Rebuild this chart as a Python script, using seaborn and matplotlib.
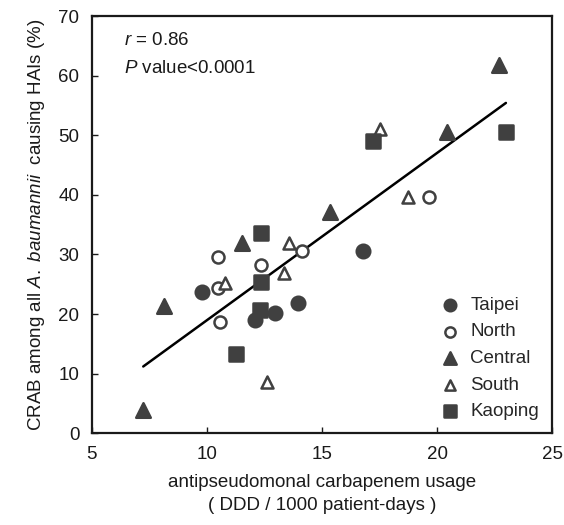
import numpy as np
import pandas as pd
import seaborn as sns
import matplotlib.pyplot as plt

# data
taipei_x = [9.77, 12.1, 12.95, 13.97, 16.77]
taipei_y = [23.7, 19.0, 20.2, 21.9, 30.6]
north_x = [10.46, 10.46, 10.57, 12.33, 14.14, 19.63]
north_y = [29.5, 24.3, 18.7, 28.2, 30.6, 39.6]
central_x = [7.23, 8.14, 11.51, 15.33, 20.42, 22.67]
central_y = [3.9, 21.3, 31.9, 37.2, 50.6, 61.8]
south_x = [10.78, 12.6, 13.36, 13.57, 17.52, 18.73]
south_y = [25.2, 8.6, 26.9, 32.0, 51.0, 39.6]
kaoping_x = [11.25, 12.3, 12.35, 12.35, 17.23, 22.99]
kaoping_y = [13.3, 20.7, 25.3, 33.6, 49.0, 50.6]

regions = ['Taipei', 'North', 'Central', 'South', 'Kaoping']

df = pd.concat([
    pd.DataFrame({'usage': taipei_x, 'crab': taipei_y, 'region': 'Taipei'}),
    pd.DataFrame({'usage': north_x, 'crab': north_y, 'region': 'North'}),
    pd.DataFrame({'usage': central_x, 'crab': central_y, 'region': 'Central'}),
    pd.DataFrame({'usage': south_x, 'crab': south_y, 'region': 'South'}),
    pd.DataFrame({'usage': kaoping_x, 'crab': kaoping_y, 'region': 'Kaoping'}),
], ignore_index=True)

sns.set_style('ticks')
plt.rcParams['font.family'] = ['Liberation Sans', 'DejaVu Sans']
plt.rcParams['mathtext.fontset'] = 'custom'
plt.rcParams['mathtext.rm'] = 'Liberation Sans'
plt.rcParams['mathtext.it'] = 'Liberation Sans:italic'

grey = '#404040'
ink = '#1a1a1a'
styles = {
    'Taipei': dict(marker='o', s=95, facecolor=grey),
    'North': dict(marker='o', s=75, facecolor='white'),
    'Central': dict(marker='^', s=110, facecolor=grey),
    'South': dict(marker='^', s=75, facecolor='white'),
    'Kaoping': dict(marker='s', s=90, facecolor=grey),
}

fig = plt.figure(figsize=(5.64, 5.25), dpi=100)
ax = fig.add_axes([0.163, 0.175, 0.816, 0.794])

# fitted line over all points
sns.regplot(
    x='usage', y='crab', data=df, scatter=False, ci=None,
    color='black', line_kws={'linewidth': 1.8}, ax=ax
)

for reg in regions:
    st = styles[reg]
    sub = df[df['region'] == reg]
    sns.scatterplot(
        x='usage', y='crab', data=sub, ax=ax,
        marker=st['marker'], s=st['s'], color=st['facecolor'],
        edgecolor=grey, linewidth=1.8, label=reg, zorder=3
    )

ax.set_xlim(5, 25)
ax.set_ylim(0, 70)
ax.set_xticks([5, 10, 15, 20, 25])
ax.set_yticks(np.arange(0, 71, 10))
ax.tick_params(direction='in', length=4, width=1, labelsize=13.5, colors=ink, pad=9)
for sp in ax.spines.values():
    sp.set_visible(True)
    sp.set_linewidth(1.6)
    sp.set_color(ink)

ax.set_xlabel('antipseudomonal carbapenem usage\n( DDD / 1000 patient-days )',
              fontsize=13.5, color=ink, labelpad=8, linespacing=1.5)
ax.set_ylabel(r'CRAB among all $\mathit{A.\ baumannii}$  causing HAIs (%)',
              fontsize=13.5, color=ink, labelpad=8)

ax.text(0.07, 0.93, r'$\mathit{r}$ = 0.86', transform=ax.transAxes,
        fontsize=13.5, color=ink)
ax.text(0.07, 0.865, r'$\mathit{P}$ value<0.0001', transform=ax.transAxes,
        fontsize=13.5, color=ink)

leg = ax.legend(loc='lower right', frameon=False, fontsize=13.5,
                handletextpad=0.1, labelspacing=0.5, borderaxespad=0.3,
                markerscale=0.85)

fig.savefig('out.png', dpi=100)
